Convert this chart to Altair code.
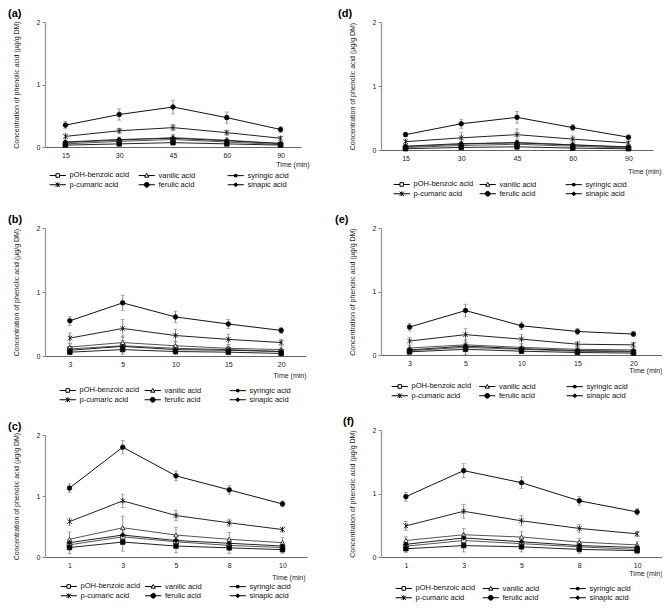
import altair as alt
import pandas as pd

FONT = "Liberation Sans"

ACIDS = ["pOH-benzoic acid", "vanilic acid", "syringic acid",
         "p-cumaric acid", "ferulic acid", "sinapic acid"]

TIMES_A = ["15", "30", "45", "60", "90"]
TIMES_B = ["3", "5", "10", "15", "20"]
TIMES_C = ["1", "3", "5", "8", "10"]

Y_TICKS = [0, 0.5, 1, 1.5, 2]

# series order: pOH-benzoic, vanilic, syringic, p-cumaric, ferulic, sinapic
A_MEAN = [[0.05, 0.09, 0.12, 0.08, 0.04],
          [0.07, 0.11, 0.15, 0.11, 0.05],
          [0.03, 0.05, 0.07, 0.05, 0.03],
          [0.17, 0.26, 0.31, 0.23, 0.14],
          [0.35, 0.52, 0.64, 0.47, 0.28],
          [0.08, 0.12, 0.14, 0.10, 0.06]]
A_ERR = [[0.02, 0.03, 0.04, 0.03, 0.02],
         [0.03, 0.04, 0.05, 0.04, 0.02],
         [0.02, 0.03, 0.04, 0.03, 0.02],
         [0.04, 0.04, 0.05, 0.04, 0.03],
         [0.06, 0.09, 0.11, 0.09, 0.05],
         [0.03, 0.04, 0.05, 0.03, 0.02]]

B_MEAN = [[0.11, 0.16, 0.12, 0.10, 0.07],
          [0.14, 0.21, 0.16, 0.12, 0.10],
          [0.06, 0.10, 0.07, 0.06, 0.04],
          [0.28, 0.43, 0.32, 0.26, 0.21],
          [0.55, 0.83, 0.61, 0.50, 0.40],
          [0.09, 0.15, 0.10, 0.09, 0.07]]
B_ERR = [[0.04, 0.08, 0.05, 0.04, 0.03],
         [0.05, 0.10, 0.07, 0.05, 0.04],
         [0.04, 0.08, 0.05, 0.04, 0.03],
         [0.08, 0.14, 0.10, 0.08, 0.05],
         [0.07, 0.12, 0.09, 0.07, 0.05],
         [0.03, 0.05, 0.04, 0.03, 0.03]]

C_MEAN = [[0.20, 0.33, 0.25, 0.19, 0.155],
          [0.29, 0.48, 0.36, 0.29, 0.235],
          [0.155, 0.245, 0.18, 0.15, 0.12],
          [0.58, 0.92, 0.68, 0.56, 0.45],
          [1.13, 1.80, 1.33, 1.10, 0.87],
          [0.235, 0.36, 0.27, 0.225, 0.18]]
C_ERR = [[0.08, 0.12, 0.09, 0.07, 0.05],
         [0.12, 0.19, 0.13, 0.11, 0.08],
         [0.10, 0.15, 0.11, 0.09, 0.06],
         [0.06, 0.11, 0.08, 0.06, 0.04],
         [0.07, 0.11, 0.08, 0.07, 0.05],
         [0.06, 0.09, 0.07, 0.06, 0.05]]

D_MEAN = [[0.04, 0.07, 0.09, 0.06, 0.03],
          [0.05, 0.09, 0.12, 0.08, 0.04],
          [0.02, 0.04, 0.05, 0.03, 0.02],
          [0.13, 0.19, 0.24, 0.17, 0.11],
          [0.24, 0.41, 0.51, 0.35, 0.20],
          [0.06, 0.10, 0.11, 0.08, 0.05]]
D_ERR = [[0.02, 0.03, 0.04, 0.03, 0.02],
         [0.02, 0.03, 0.04, 0.03, 0.02],
         [0.02, 0.03, 0.04, 0.03, 0.02],
         [0.04, 0.08, 0.09, 0.05, 0.03],
         [0.03, 0.07, 0.09, 0.05, 0.03],
         [0.02, 0.03, 0.04, 0.03, 0.02]]

E_MEAN = [[0.07, 0.12, 0.09, 0.06, 0.05],
          [0.11, 0.16, 0.12, 0.09, 0.08],
          [0.05, 0.09, 0.06, 0.04, 0.03],
          [0.22, 0.32, 0.25, 0.17, 0.16],
          [0.44, 0.70, 0.46, 0.37, 0.33],
          [0.08, 0.14, 0.10, 0.07, 0.06]]
E_ERR = [[0.03, 0.07, 0.04, 0.03, 0.02],
         [0.04, 0.08, 0.05, 0.03, 0.03],
         [0.04, 0.08, 0.04, 0.03, 0.02],
         [0.06, 0.10, 0.07, 0.04, 0.04],
         [0.06, 0.10, 0.06, 0.05, 0.04],
         [0.03, 0.05, 0.03, 0.02, 0.02]]

F_MEAN = [[0.17, 0.26, 0.21, 0.16, 0.12],
          [0.26, 0.35, 0.315, 0.235, 0.19],
          [0.13, 0.18, 0.16, 0.12, 0.10],
          [0.49, 0.72, 0.57, 0.45, 0.365],
          [0.95, 1.36, 1.17, 0.885, 0.71],
          [0.20, 0.30, 0.24, 0.18, 0.15]]
F_ERR = [[0.05, 0.08, 0.06, 0.05, 0.04],
         [0.06, 0.10, 0.09, 0.06, 0.05],
         [0.06, 0.10, 0.08, 0.06, 0.05],
         [0.07, 0.11, 0.08, 0.06, 0.04],
         [0.07, 0.11, 0.09, 0.07, 0.05],
         [0.05, 0.07, 0.06, 0.05, 0.04]]

# styles
LINE_COLORS = ["#555555", "#555555", "#222222", "#222222", "#111111", "#222222"]
FILLS = ["white", "white", "black", "black", "black", "black"]
SIZES = [20, 22, 8, 26, 40, 20]
STAR = "M-1,-1L1,1M-1,1L1,-1M0,-1.2V1.2"
PLOT_SHAPES = ["square", "triangle-up", "square", STAR, "circle", "diamond"]
LEGEND_PATHS = [
    "M-2.7,0H-0.6M0.6,0H2.7M-0.6,-0.6H0.6M0.6,-0.6V0.6M0.6,0.6H-0.6M-0.6,0.6V-0.6",
    "M-2.7,0H-0.45M0.45,0H2.7M0,-0.7L0.7,0.55M0.7,0.55H-0.7M-0.7,0.55L0,-0.7",
    "M-2.7,0H2.7M-0.4,-0.4H0.4V0.4H-0.4Z",
    "M-2.7,0H2.7M-0.7,-0.7L0.7,0.7M-0.7,0.7L0.7,-0.7M0,-0.8V0.8",
    "M-2.7,0H2.7M0.8,0A0.8,0.8,0,1,1,-0.8,0A0.8,0.8,0,1,1,0.8,0Z",
    "M-2.7,0H2.7M0,-0.65L0.65,0L0,0.65L-0.65,0Z",
]
LEGEND_INK = ["black"] * 6

YTITLE = "Concentration of phenolic acid (µg/g DM)"


def frame(times, means, errs):
    rows = []
    for acid, ms, es in zip(ACIDS, means, errs):
        for t, m, e in zip(times, ms, es):
            rows.append({"acid": acid, "time": t, "mean": m,
                         "lo": max(m - e, 0), "hi": m + e})
    return pd.DataFrame(rows)


def legend(lx, ly, cp):
    return alt.Legend(title=None, orient="none", legendX=lx, legendY=ly,
                      columns=3, direction="horizontal", gridAlign="all",
                      columnPadding=cp, rowPadding=0, symbolSize=36,
                      symbolStrokeWidth=1, symbolOpacity=1, labelFont=FONT,
                      labelFontSize=7.5, labelOffset=8, labelColor="#111",
                      padding=0)


def panel(label, times, means, errs, w, h, pad, tdx, txo, tyo, lx, ly, cp):
    df = frame(times, means, errs)
    base = alt.Chart(df)
    x = alt.X("time:O", sort=times, scale=alt.Scale(type="point", padding=pad),
              axis=alt.Axis(title="Time (min)", labelAngle=0, tickSize=0,
                            labelPadding=4, labelFontSize=7, labelColor="#222",
                            titleFontSize=7, titleFontWeight="normal",
                            titleColor="#222", titleX=w + txo, titleY=tyo,
                            titleAlign="right", titleBaseline="middle",
                            domainColor="#666", domainWidth=1))
    y = alt.Y("mean:Q", scale=alt.Scale(domain=[0, 2], nice=False),
              axis=alt.Axis(title=YTITLE, values=Y_TICKS, format="~g",
                            tickSize=3, tickColor="#888", domainColor="#999",
                            domainWidth=1.3, grid=False, labelFontSize=7,
                            labelColor="#222", labelPadding=2,
                            titleFontSize=7, titleFontWeight="normal",
                            titleColor="#222", titlePadding=17))
    rules = base.mark_rule(color="#777", strokeWidth=0.8).encode(
        x=x, y=alt.Y("lo:Q"), y2="hi:Q")
    cap_lo = base.mark_tick(color="#777", thickness=0.8, size=4).encode(
        x=x, y=alt.Y("lo:Q"))
    cap_hi = base.mark_tick(color="#777", thickness=0.8, size=4).encode(
        x=x, y=alt.Y("hi:Q"))
    lines = base.mark_line(strokeWidth=1).encode(
        x=x, y=y,
        color=alt.Color("acid:N", scale=alt.Scale(domain=ACIDS, range=LINE_COLORS),
                        legend=None))
    pts = base.mark_point(filled=True, stroke="#111", strokeWidth=0.8,
                          opacity=1).encode(
        x=x, y=y,
        shape=alt.Shape("acid:N", scale=alt.Scale(domain=ACIDS, range=PLOT_SHAPES),
                        legend=None),
        fill=alt.Fill("acid:N", scale=alt.Scale(domain=ACIDS, range=FILLS),
                      legend=None),
        size=alt.Size("acid:N", scale=alt.Scale(domain=ACIDS, range=SIZES),
                      legend=None))
    lg = legend(lx, ly, cp)
    leg = alt.Chart(pd.DataFrame({"acid": ACIDS})).mark_point(
        opacity=0, size=36, strokeWidth=1).encode(
        shape=alt.Shape("acid:N", scale=alt.Scale(domain=ACIDS, range=LEGEND_PATHS),
                        legend=lg),
        fill=alt.Fill("acid:N", scale=alt.Scale(domain=ACIDS, range=LEGEND_INK),
                      legend=lg),
        stroke=alt.Stroke("acid:N", scale=alt.Scale(domain=ACIDS, range=LEGEND_INK),
                          legend=lg))
    return alt.layer(rules, cap_lo, cap_hi, lines, pts, leg).resolve_scale(
        shape="independent", fill="independent", stroke="independent").properties(
        width=w, height=h,
        title=alt.TitleParams(text=label, anchor="start", frame="group",
                              dx=tdx, offset=-1, fontSize=11, fontWeight="bold",
                              font=FONT, color="black"))


pa = panel("(a)", TIMES_A, A_MEAN, A_ERR, 256, 125, 0.38, -37, 8, 17, 9, 149, 6)
pb = panel("(b)", TIMES_B, B_MEAN, B_ERR, 261, 128, 0.47, -37, 0, 19, 19, 158, 2)
pc = panel("(c)", TIMES_C, C_MEAN, C_ERR, 262, 122, 0.46, -37, -2, 20, 20, 147, 1.5)
pd_ = panel("(d)", TIMES_A, D_MEAN, D_ERR, 272, 128, 0.44, -43, 8, 21, 17, 158, 3)
pe = panel("(e)", TIMES_B, E_MEAN, E_ERR, 281, 127, 0.51, -46, 0, 15, 15, 154, 4.5)
pf = panel("(f)", TIMES_C, F_MEAN, F_ERR, 281, 127, 0.43, -38, 0, 16, 19, 154, 4)

RES = dict(shape="independent", color="independent", fill="independent",
           size="independent", stroke="independent")

left_top = alt.vconcat(pa, pb, spacing=24).resolve_scale(**RES)
left = alt.vconcat(left_top, pc, spacing=16).resolve_scale(**RES)
right = alt.vconcat(pd_, pe, pf, spacing=15).resolve_scale(**RES)

chart = alt.hconcat(left, right, spacing=26).resolve_scale(**RES).properties(
    padding=0
).configure(font=FONT).configure_view(stroke=None)

chart.save("out.html", embed_options={"renderer": "svg", "actions": False})
